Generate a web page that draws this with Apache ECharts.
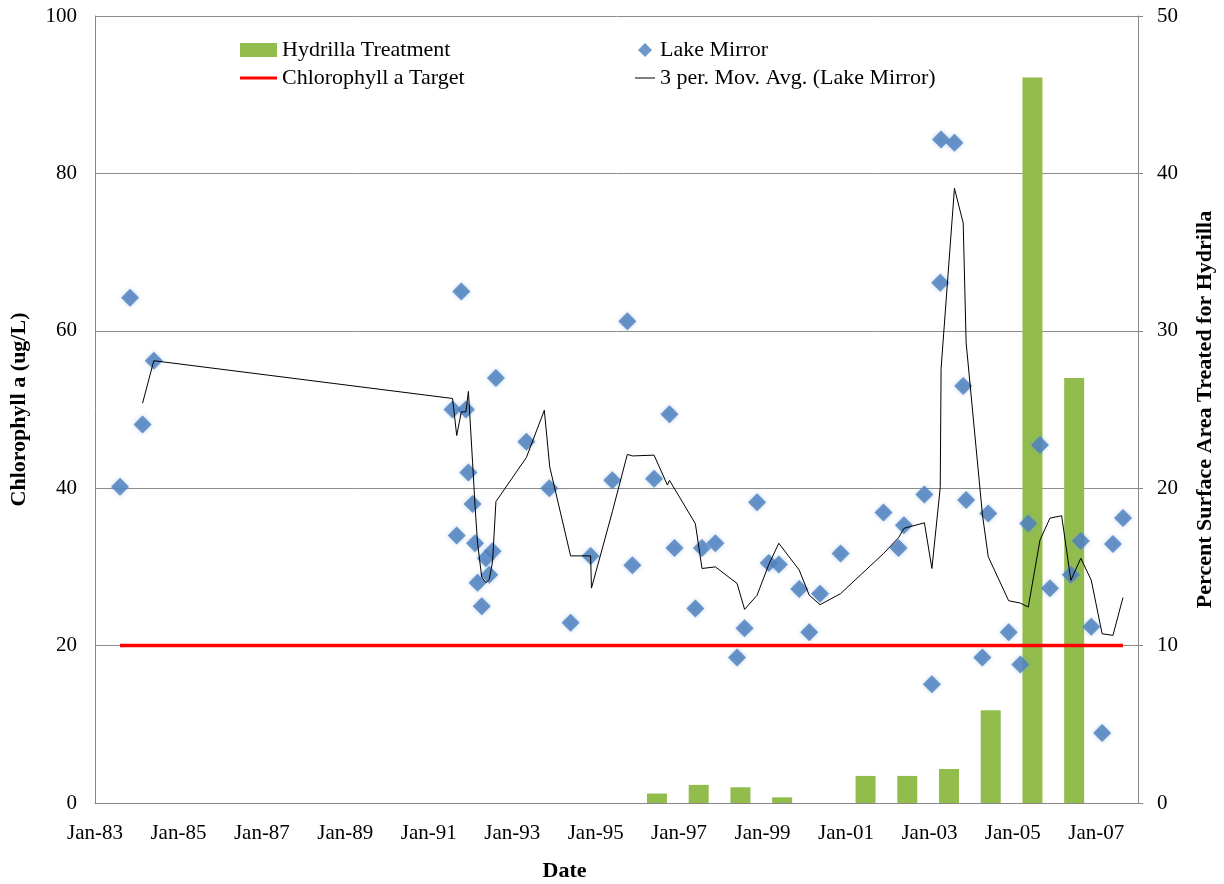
<!DOCTYPE html>
<html>
<head>
<meta charset="utf-8">
<script src="https://cdn.jsdelivr.net/npm/echarts@6/dist/echarts.min.js"></script>
<style>html,body{margin:0;padding:0;background:#fff}#c{width:1224px;height:884px}</style>
</head>
<body>
<div id="c"></div>
<script>
// Lake Mirror chlorophyll samples: [decimal year, ug/L]
const lakeMirror = [
  [1983.60,40.2],[1983.84,64.2],[1984.14,48.1],[1984.41,56.2],
  [1991.57,50.0],[1991.67,34.0],[1991.78,65.0],[1991.89,50.0],[1991.95,42.0],
  [1992.05,38.0],[1992.11,33.0],[1992.17,28.0],[1992.27,25.0],[1992.37,31.1],
  [1992.45,29.0],[1992.53,32.0],[1992.61,54.0],[1993.34,45.9],[1993.89,40.0],
  [1994.40,22.9],[1994.88,31.4],[1995.40,41.0],[1995.76,61.2],[1995.88,30.2],
  [1996.40,41.2],[1996.77,49.4],[1996.89,32.4],[1997.39,24.7],[1997.55,32.4],
  [1997.87,33.0],[1998.39,18.5],[1998.57,22.2],[1998.87,38.2],[1999.15,30.5],
  [1999.39,30.3],[1999.88,27.2],[2000.12,21.7],[2000.38,26.6],[2000.87,31.7],
  [2001.90,36.9],[2002.26,32.4],[2002.39,35.3],[2002.88,39.2],[2003.06,15.1],
  [2003.26,66.1],[2003.28,84.3],[2003.60,83.9],[2003.81,53.0],[2003.88,38.5],
  [2004.27,18.5],[2004.41,36.8],[2004.90,21.7],[2005.18,17.6],[2005.37,35.5],
  [2005.65,45.5],[2005.89,27.3],[2006.39,29.0],[2006.63,33.3],[2006.88,22.4],
  [2007.14,8.9],[2007.40,32.9],[2007.64,36.2]
];
// 3-period moving average trendline vertices
const movAvg = [
  [1984.14,50.8],[1984.41,56.2],[1991.57,51.4],[1991.67,46.7],[1991.78,49.7],
  [1991.89,49.7],[1991.95,52.3],[1992.05,43.3],[1992.11,37.7],[1992.17,33.0],
  [1992.27,28.7],[1992.37,28.0],[1992.45,28.4],[1992.53,30.7],[1992.61,38.3],
  [1993.34,43.9],[1993.77,49.9],[1993.90,42.7],[1994.40,31.4],[1994.88,31.4],
  [1994.90,27.3],[1995.40,37.0],[1995.76,44.3],[1995.88,44.1],[1996.40,44.2],
  [1996.72,40.4],[1996.77,41.0],[1997.39,35.5],[1997.55,29.8],[1997.87,30.0],
  [1998.39,27.9],[1998.57,24.6],[1998.87,26.4],[1999.15,30.3],[1999.39,33.0],
  [1999.88,29.6],[2000.12,26.4],[2000.38,25.2],[2000.87,26.6],[2001.90,31.7],
  [2002.26,33.7],[2002.39,34.9],[2002.88,35.6],[2003.06,29.8],[2003.26,40.1],
  [2003.28,55.2],[2003.60,78.1],[2003.81,73.7],[2003.88,58.5],[2004.27,36.7],
  [2004.41,31.3],[2004.90,25.7],[2005.18,25.4],[2005.37,24.9],[2005.65,33.4],
  [2005.89,36.2],[2006.17,36.5],[2006.39,28.3],[2006.63,31.1],[2006.88,28.3],
  [2007.14,21.5],[2007.40,21.3],[2007.64,26.1]
];
// Chlorophyll a target (ug/L)
const targetDates = [1983.60, 2007.64];
const targetValue = 20;
// Hydrilla treatment: percent surface area treated per year
const hydrillaYears = [1996,1997,1998,1999,2000,2001,2002,2003,2004,2005,2006];
const hydrillaPct   = [0.6, 1.15, 1.0, 0.36, 0, 1.72, 1.72, 2.16, 5.9, 46.1, 27.0];
const leftTicks = {min:0, max:100, step:20};
const rightTicks = {min:0, max:50, step:10};
const xRange = {min:1983, max:2008, step:2};

const FONT = 'Liberation Serif';
const chart = echarts.init(document.getElementById('c'), null, {renderer:'canvas'});
const barData = hydrillaYears.map((y,i)=>[y+0.47, hydrillaPct[i]]);
const targetData = targetDates.map(d=>[d, targetValue]);

const legendText = {fontFamily:FONT,fontSize:22,color:'#000'};
chart.setOption({
  animation:false,
  backgroundColor:'#fff',
  textStyle:{fontFamily:FONT},
  grid:{left:95, right:86, top:16, bottom:81, containLabel:false, outerBoundsMode:'none'},
  legend:[
    {data:[{name:'Hydrilla Treatment',icon:'rect'},
           {name:'Chlorophyll a Target',icon:'path://M0,0H37V3H0Z'}],
     orient:'vertical', left:240, top:39, padding:0,
     itemWidth:37, itemHeight:14, itemGap:6, textStyle:legendText},
    {data:[{name:'Lake Mirror',icon:'path://M5,0L10,5L5,10L0,5Z'},
           {name:'3 per. Mov. Avg. (Lake Mirror)',icon:'path://M0,0H20V1H0Z'}],
     orient:'vertical', left:635, top:39, padding:0,
     itemWidth:20, itemHeight:14, itemGap:6, textStyle:legendText}
  ],
  xAxis:{
    type:'value', min:xRange.min, max:xRange.max, interval:xRange.step,
    name:'Date', nameLocation:'middle', nameGap:57,
    nameTextStyle:{fontFamily:FONT,fontSize:22,fontWeight:'bold',color:'#000',padding:[0,104,0,0]},
    axisLine:{show:true,lineStyle:{color:'#888',width:1}},
    axisTick:{show:false},
    splitLine:{show:false},
    axisLabel:{fontFamily:FONT,fontSize:21,color:'#000',margin:20,
      formatter:v=>'Jan-'+String(Math.round(v)).slice(2)}
  },
  yAxis:[
    {type:'value', min:leftTicks.min, max:leftTicks.max, interval:leftTicks.step, position:'left',
     name:'Chlorophyll a (ug/L)', nameLocation:'middle', nameGap:65, nameRotate:90,
     nameTextStyle:{fontFamily:FONT,fontSize:22,fontWeight:'bold',color:'#000'},
     axisLine:{show:true,lineStyle:{color:'#888',width:1}},
     axisTick:{show:false},
     splitLine:{show:true,lineStyle:{color:'#8c8c8c',width:1}},
     axisLabel:{fontFamily:FONT,fontSize:21,color:'#000',margin:18}},
    {type:'value', min:rightTicks.min, max:rightTicks.max, interval:rightTicks.step, position:'right',
     name:'Percent Surface Area Treated for Hydrilla', nameLocation:'middle', nameGap:56, nameRotate:90,
     nameTextStyle:{fontFamily:FONT,fontSize:22,fontWeight:'bold',color:'#000'},
     axisLine:{show:true,lineStyle:{color:'#888',width:1}},
     axisTick:{show:true,length:5,lineStyle:{color:'#888'}},
     splitLine:{show:false},
     axisLabel:{fontFamily:FONT,fontSize:21,color:'#000',margin:19}}
  ],
  series:[
    {name:'Hydrilla Treatment', type:'bar', yAxisIndex:1, data:barData, barWidth:20,
     itemStyle:{color:'#92BC4C'}, z:1},
    {name:'Chlorophyll a Target', type:'line', yAxisIndex:0, data:targetData,
     showSymbol:false, symbol:'none', lineStyle:{color:'#ff0000',width:3.5}, itemStyle:{color:'#ff0000'}, z:2},
    {name:'Lake Mirror', type:'scatter', yAxisIndex:0, data:lakeMirror, symbol:'diamond', symbolSize:18,
     itemStyle:{color:'#4A7EBB', shadowBlur:4, shadowColor:'rgba(120,160,220,0.6)'}, z:3},
    {name:'3 per. Mov. Avg. (Lake Mirror)', type:'line', yAxisIndex:0, data:movAvg,
     showSymbol:false, symbol:'none', lineStyle:{color:'#000',width:1}, itemStyle:{color:'#000'}, z:4}
  ]
});
</script>
</body>
</html>
